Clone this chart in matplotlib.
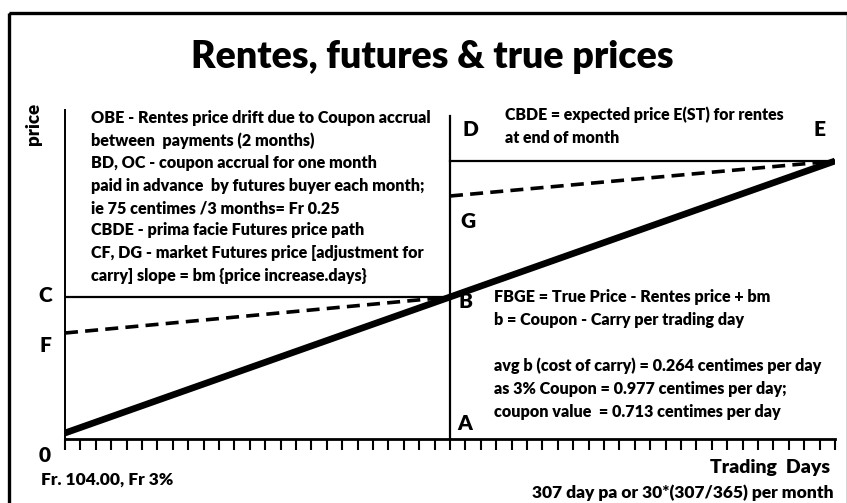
import matplotlib
matplotlib.use("Agg")
import matplotlib.pyplot as plt
from matplotlib.patches import Rectangle

plt.rcParams['font.family'] = ['Lato', 'DejaVu Sans']
plt.rcParams['font.weight'] = 'bold'

W, H = 847, 503

# data (trading days within the month, price in chart units above the 0 level)
days = [0, 25, 50]
true_price = [6, 142, 278]          # O - B - E
futures_days_1 = [0, 25]
futures_1 = [106, 142]              # F - B
futures_days_2 = [25, 50]
futures_2 = [243, 278]              # G - E
level_c = 142                       # C - B
level_d = 278                       # D - E
n_ticks = 51

left_notes = [
    "OBE - Rentes price drift due to Coupon accrual",
    "between  payments (2 months)",
    "BD, OC - coupon accrual for one month",
    "paid in advance  by futures buyer each month;",
    "ie 75 centimes /3 months= Fr 0.25",
    "CBDE - prima facie Futures price path",
    "CF, DG - market Futures price [adjustment for",
    "carry] slope = bm {price increase.days}",
]
top_notes = ["CBDE = expected price E(ST) for rentes", "at end of month"]
right_notes = [
    "FBGE = True Price - Rentes price + bm",
    "b = Coupon - Carry per trading day",
    "",
    "avg b (cost of carry) = 0.264 centimes per day",
    "as 3% Coupon = 0.977 centimes per day;",
    "coupon value  = 0.713 centimes per day",
]


def px(x, y):
    return x / W, 1 - y / H


fig = plt.figure(figsize=(W / 100, H / 100), dpi=100)
fig.patches.append(Rectangle(px(9, 13), 0.99, -1.0, transform=fig.transFigure,
                             fill=False, lw=2.4, ec="black", clip_on=False))

ax = fig.add_axes([65 / W, 1 - 439 / H, (835 - 65) / W, (439 - 110) / H])
ax.set_xlim(0, 50)
ax.set_ylim(0, 329)
for s in ["top", "right"]:
    ax.spines[s].set_visible(False)
ax.spines["left"].set_linewidth(1.4)
ax.spines["bottom"].set_linewidth(2)
ax.set_xticks(range(n_ticks))
ax.set_xticklabels([])
ax.set_yticks([])
ax.tick_params(axis="x", direction="out", length=8, width=1.5)

# prima facie futures path C-B-D-E and the A-D vertical
ax.plot([days[0], days[1]], [level_c, level_c], color="black", lw=1.6)
ax.plot([days[1], days[2]], [level_d, level_d], color="black", lw=1.6)
ax.plot([days[1], days[1]], [0, 323], color="black", lw=1.6)

# market futures price
ax.plot(futures_days_1, futures_1, color="black", lw=2.6, dashes=(3.6, 2.0))
ax.plot(futures_days_2, futures_2, color="black", lw=2.6, dashes=(3.6, 2.0))

# true price
ax.plot(days, true_price, color="black", lw=4.8, solid_capstyle="butt")

fig.text(*px(432, 57), "Rentes, futures & true prices", ha="center", va="center",
         fontsize=27, fontweight="heavy")
fig.text(*px(33, 124), "price", rotation=90, ha="center", va="center", fontsize=13.5,
         fontweight="heavy")

for lab, x, y in [("C", 45, 296), ("F", 45, 346), ("0", 45, 455), ("D", 470, 130),
                  ("E", 819, 130), ("G", 468, 221), ("B", 465, 302), ("A", 465, 424)]:
    fig.text(*px(x, y), lab, ha="center", va="center", fontsize=15, fontweight="heavy")

for i, t in enumerate(left_notes):
    fig.text(*px(91, 118 + i * 22.5), t, ha="left", va="center", fontsize=11.6,
             fontweight="heavy")
for i, t in enumerate(top_notes):
    fig.text(*px(505, 115 + i * 23), t, ha="left", va="center", fontsize=11.4,
             fontweight="heavy")
for i, t in enumerate(right_notes):
    fig.text(*px(494, 297 + i * 23), t, ha="left", va="center", fontsize=11.6,
             fontweight="heavy")

fig.text(*px(41, 480), "Fr. 104.00, Fr 3%", ha="left", va="center", fontsize=12.5,
         fontweight="heavy")
fig.text(*px(830, 467), "Trading  Days", ha="right", va="center", fontsize=14,
         fontweight="heavy")
fig.text(*px(834, 493), "307 day pa or 30*(307/365) per month", ha="right", va="center",
         fontsize=12.5, fontweight="heavy")

fig.savefig("out.png", dpi=100)
